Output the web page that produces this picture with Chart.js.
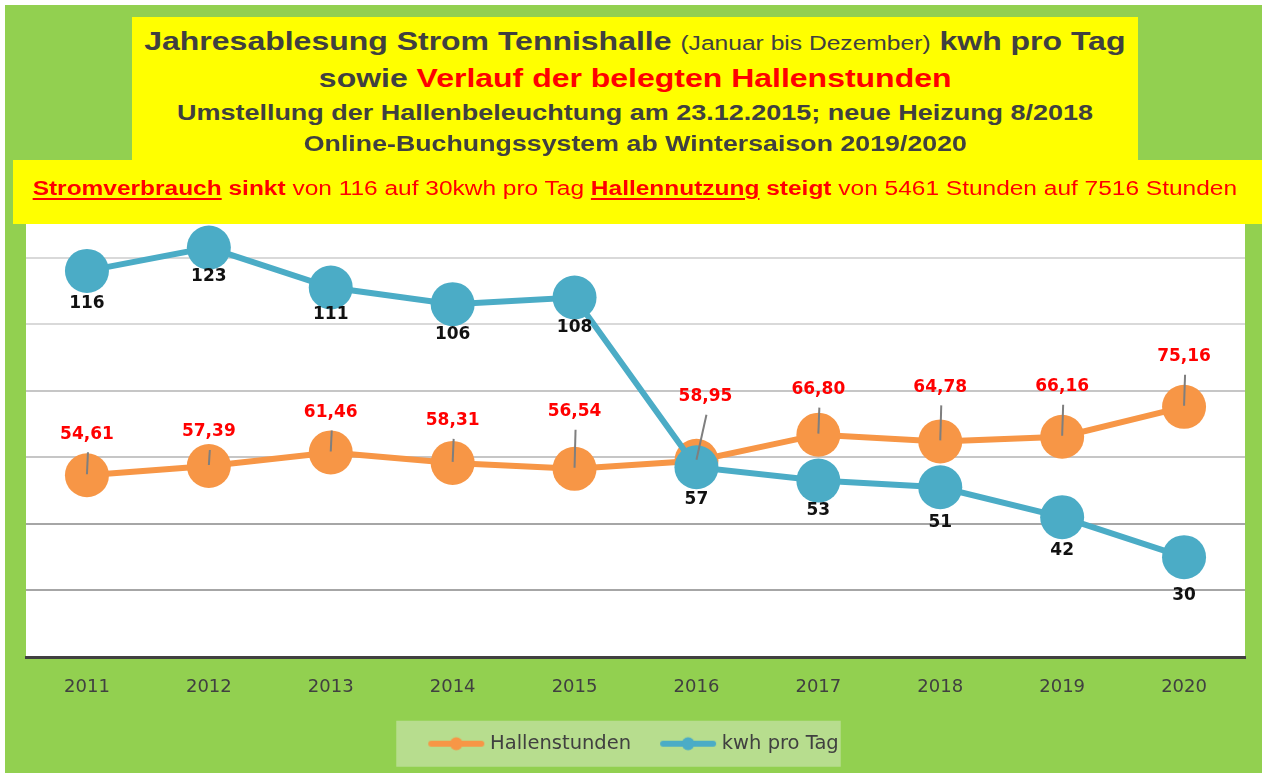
<!DOCTYPE html>
<html lang="de">
<head>
<meta charset="utf-8">
<title>Jahresablesung Strom Tennishalle</title>
<script src="https://cdn.jsdelivr.net/npm/chart.js@4.4.1/dist/chart.umd.min.js"></script>
<style>
  html, body { margin: 0; padding: 0; background: #fff; }
  #frame { position: absolute; left: 5px; top: 5px; width: 1257px; height: 768px; background: #92d050; }
  #chart { position: absolute; left: 0; top: 0; z-index: 1; }
  .ybox { position: absolute; background: #ffff00; z-index: 2; }
  .line { position: absolute; height: 40px; line-height: 40px; text-align: center; white-space: nowrap;
          font-family: "Liberation Sans", Arial, sans-serif; font-weight: bold; color: #404040; z-index: 3; }
  .line .s { display: inline-block; transform: scaleX(1.23); }
  .red { color: #ff0000; }
  .norm { font-weight: normal; }
  .ul { text-decoration: underline; text-decoration-thickness: 2px; text-underline-offset: 3px; }
</style>
</head>
<body>
<div id="frame"></div>
<canvas id="chart" width="1262" height="773"></canvas>

<div class="ybox" style="left:132px; top:17px; width:1006px; height:143px;"></div>
<div class="ybox" style="left:13px; top:160px; width:1249px; height:64px;"></div>

<div class="line" style="left:132px; width:1006px; top:21px; font-size:26px;"><span class="s">Jahresablesung Strom Tennishalle <span class="norm" style="font-size:20px;">(Januar bis Dezember)</span> kwh pro Tag</span></div>
<div class="line" style="left:132px; width:1006px; top:58px; font-size:26px;"><span class="s">sowie <span class="red">Verlauf der belegten Hallenstunden</span></span></div>
<div class="line" style="left:132px; width:1006px; top:93px; font-size:21.5px;"><span class="s" style="transform:scaleX(1.255);">Umstellung der Hallenbeleuchtung am 23.12.2015; neue Heizung 8/2018</span></div>
<div class="line" style="left:132px; width:1006px; top:124px; font-size:21.5px;"><span class="s" style="transform:scaleX(1.245);">Online-Buchungssystem ab Wintersaison 2019/2020</span></div>
<div class="line red" style="left:13px; width:1244px; top:168px; font-size:19.5px;"><span class="s" style="transform:scaleX(1.255);"><span class="ul">Stromverbrauch</span> sinkt <span class="norm">von 116 auf 30kwh pro Tag</span> <span class="ul">Hallennutzung</span> steigt <span class="norm">von 5461 Stunden auf 7516 Stunden</span></span></div>

<script>
// Daten
const years = ['2011', '2012', '2013', '2014', '2015', '2016', '2017', '2018', '2019', '2020'];
const hallenstunden = [54.61, 57.39, 61.46, 58.31, 56.54, 58.95, 66.80, 64.78, 66.16, 75.16];
const kwhProTag = [116, 123, 111, 106, 108, 57, 53, 51, 42, 30];
const yMin = 0;
const yMax = 140;
const yStep = 20;

const ORANGE = '#f79646';
const BLUE = '#4bacc6';

// Legendensymbol: Linie mit Punkt
function legendMarker(color) {
    const c = document.createElement('canvas');
    c.width = 58;
    c.height = 16;
    const g = c.getContext('2d');
    g.strokeStyle = color;
    g.lineWidth = 6;
    g.lineCap = 'round';
    g.beginPath();
    g.moveTo(4, 8);
    g.lineTo(54, 8);
    g.stroke();
    g.fillStyle = color;
    g.beginPath();
    g.arc(29, 8, 6.5, 0, Math.PI * 2);
    g.fill();
    return c;
}
const markers = [legendMarker(ORANGE), legendMarker(BLUE)];

// weisser Plotbereich + Legendenhintergrund
const backgroundPlugin = {
    id: 'backgrounds',
    beforeDraw(chart) {
        const { ctx, chartArea } = chart;
        ctx.save();
        ctx.fillStyle = '#ffffff';
        ctx.fillRect(chartArea.left, chartArea.top, chartArea.right - chartArea.left, chartArea.bottom - chartArea.top);
        const boxes = chart.legend && chart.legend.legendHitBoxes;
        if (boxes && boxes.length) {
            const left = Math.min(...boxes.map(b => b.left)) - 36;
            const right = Math.max(...boxes.map(b => b.left + b.width)) + 2;
            const cy = boxes[0].top + boxes[0].height / 2;
            ctx.fillStyle = '#b7dd8e';
            ctx.fillRect(left, cy - 23, right - left, 46);
        }
        ctx.restore();
    }
};

// Datenbeschriftungen mit Fuehrungslinien
const labelPlugin = {
    id: 'pointLabels',
    afterDatasetsDraw(chart, args, opts) {
        const ctx = chart.ctx;
        ctx.save();
        ctx.font = 'bold 17px "DejaVu Sans"';
        ctx.textAlign = 'center';
        ctx.textBaseline = 'middle';
        chart.data.datasets.forEach((ds, di) => {
            const cfg = opts.series[di];
            const meta = chart.getDatasetMeta(di);
            meta.data.forEach((pt, i) => {
                const lx = pt.x + (cfg.dx[i] || 0);
                const ly = pt.y + cfg.dy[i];
                if (cfg.leader) {
                    ctx.strokeStyle = '#7f7f7f';
                    ctx.lineWidth = 2;
                    ctx.beginPath();
                    ctx.moveTo(lx + 1, ly + 18);
                    ctx.lineTo(pt.x, pt.y - 1);
                    ctx.stroke();
                }
                ctx.fillStyle = cfg.color;
                ctx.fillText(cfg.format(ds.data[i]), lx, ly);
            });
        });
        ctx.restore();
    }
};

new Chart(document.getElementById('chart'), {
    type: 'line',
    data: {
        labels: years,
        datasets: [{
            label: 'Hallenstunden',
            data: hallenstunden,
            borderColor: ORANGE,
            backgroundColor: ORANGE,
            borderWidth: 6,
            pointRadius: 22,
            pointHoverRadius: 22,
            pointBorderWidth: 0,
            tension: 0,
            order: 2
        }, {
            label: 'kwh pro Tag',
            data: kwhProTag,
            borderColor: BLUE,
            backgroundColor: BLUE,
            borderWidth: 6,
            pointRadius: 22,
            pointHoverRadius: 22,
            pointBorderWidth: 0,
            tension: 0,
            order: 1
        }]
    },
    options: {
        responsive: false,
        animation: false,
        devicePixelRatio: 1,
        layout: { autoPadding: false, padding: { left: 26, right: 17, top: 191, bottom: 9.5 } },
        plugins: {
            tooltip: { enabled: false },
            legend: {
                position: 'bottom',
                labels: {
                    usePointStyle: true,
                    pointStyleWidth: 48,
                    padding: 33,
                    color: '#404040',
                    font: { family: 'DejaVu Sans', size: 19.5 },
                    generateLabels: (chart) => chart.data.datasets.map((ds, i) => ({
                        text: ds.label,
                        pointStyle: markers[i],
                        fillStyle: ds.borderColor,
                        strokeStyle: ds.borderColor,
                        lineWidth: 0,
                        hidden: false,
                        datasetIndex: i,
                        fontColor: '#404040'
                    }))
                }
            },
            pointLabels: {
                series: [{
                    color: '#ff0000',
                    leader: true,
                    dy: [-41, -34, -40, -42, -57, -64, -45, -54, -50, -50],
                    dx: [0, 0, 0, 0, 0, 9, 0, 0, 0, 0],
                    format: v => v.toFixed(2).replace('.', ',')
                }, {
                    color: '#111111',
                    leader: false,
                    dy: [33, 29, 27, 30, 30, 32, 30, 35, 33, 38],
                    dx: [],
                    format: v => String(v)
                }]
            }
        },
        scales: {
            x: {
                offset: true,
                grid: { display: false, drawTicks: false, offset: true },
                border: { display: true, color: '#404040', width: 3 },
                ticks: { color: '#404040', font: { family: 'DejaVu Sans', size: 18 }, padding: 20 },
                afterFit: (scale) => {
                    scale.height = 44;
                    scale.paddingLeft = 0;
                    scale.paddingRight = 0;
                }
            },
            y: {
                min: yMin,
                max: yMax,
                ticks: { stepSize: yStep, display: false },
                border: { display: false },
                grid: {
                    drawTicks: false,
                    lineWidth: 2,
                    color: (c) => {
                        const v = c.tick ? c.tick.value : 0;
                        if (v <= 0 || v >= yMax) return 'rgba(0,0,0,0)';
                        if (v >= 100) return '#d9d9d9';
                        if (v >= 60) return '#c6c6c6';
                        return '#a6a6a6';
                    }
                }
            }
        }
    },
    plugins: [backgroundPlugin, labelPlugin]
});
</script>
</body>
</html>
